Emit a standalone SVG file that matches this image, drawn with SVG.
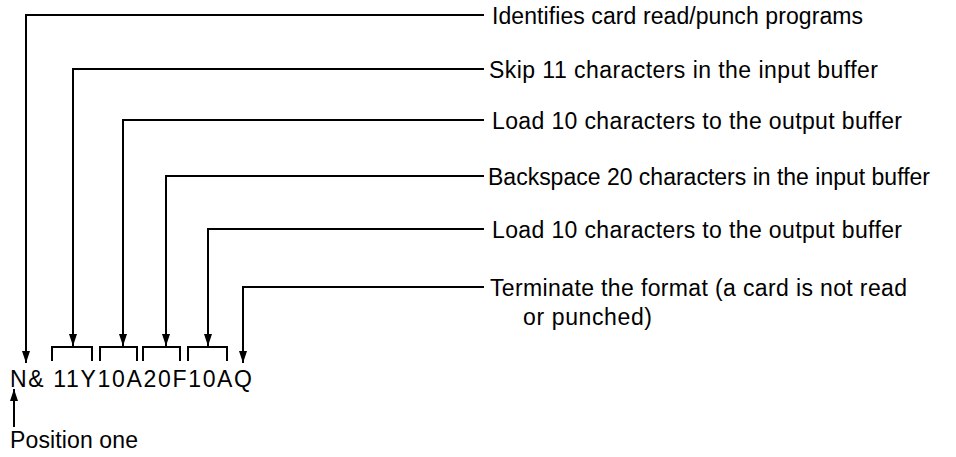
<svg xmlns="http://www.w3.org/2000/svg" width="956" height="457" viewBox="0 0 956 457">
<style>
text{font-family:"Liberation Sans",Arial,sans-serif;font-size:23px;fill:#000}
.c{fill:none;stroke:#000;stroke-width:2}
</style>
<defs>
<marker id="ah" markerUnits="userSpaceOnUse" markerWidth="13" markerHeight="8" refX="12" refY="4" orient="auto">
<path d="M0,0 L12,4 L0,8 z" fill="#000"/>
</marker>
</defs>
<rect width="956" height="457" fill="#fff"/>
<g id="connectors">
<path class="c" d="M484,15 H26 V363" marker-end="url(#ah)"/>
<path class="c" d="M484,69 H73 V346" marker-end="url(#ah)"/>
<path class="c" d="M484,120 H123 V346" marker-end="url(#ah)"/>
<path class="c" d="M484,176 H166 V346" marker-end="url(#ah)"/>
<path class="c" d="M484,229 H208 V346" marker-end="url(#ah)"/>
<path class="c" d="M484,287 H243 V363" marker-end="url(#ah)"/>
<path class="c" d="M52,361 V347 H92 V361"/>
<path class="c" d="M100,361 V347 H137 V361"/>
<path class="c" d="M143,361 V347 H180 V361"/>
<path class="c" d="M188,361 V347 H227 V361"/>
<path class="c" d="M14,427 V389" marker-end="url(#ah)"/>
</g>
<g id="label1"><text x="492" y="24" textLength="371" lengthAdjust="spacing">Identifies card read/punch programs</text></g>
<g id="label2"><text x="489" y="78" textLength="389" lengthAdjust="spacing">Skip 11 characters in the input buffer</text></g>
<g id="label3"><text x="492" y="129" textLength="410" lengthAdjust="spacing">Load 10 characters to the output buffer</text></g>
<g id="label4"><text x="488" y="185" textLength="442" lengthAdjust="spacing">Backspace 20 characters in the input buffer</text></g>
<g id="label5"><text x="492" y="238" textLength="410" lengthAdjust="spacing">Load 10 characters to the output buffer</text></g>
<g id="label6"><text x="490" y="296" textLength="417" lengthAdjust="spacing">Terminate the format (a card is not read</text><text x="523" y="325" textLength="129" lengthAdjust="spacing">or punched)</text></g>
<g id="code"><text x="10" y="387" font-size="24.5" textLength="242" lengthAdjust="spacing">N&amp; 11Y10A20F10AQ</text></g>
<g id="position"><text x="10" y="448" font-size="22" textLength="128" lengthAdjust="spacing">Position one</text></g>
</svg>
